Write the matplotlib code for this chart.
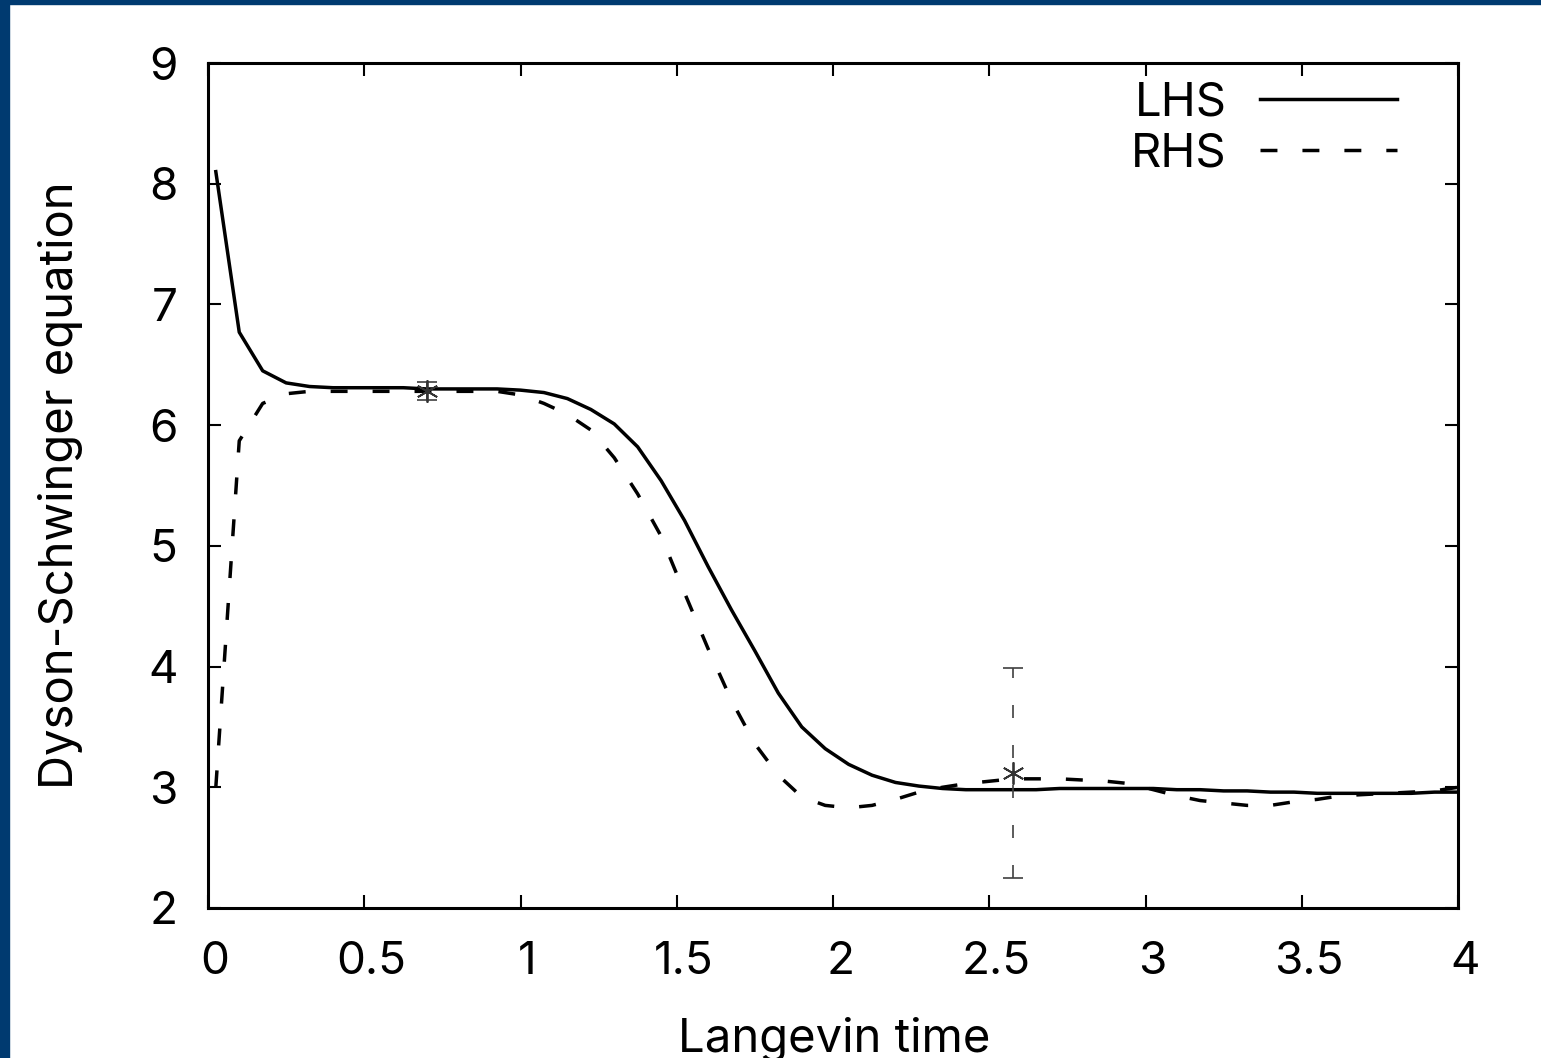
import numpy as np
import matplotlib
matplotlib.use("Agg")
import matplotlib.pyplot as plt
from matplotlib.patches import Rectangle
from matplotlib.transforms import ScaledTranslation

plt.rcParams['font.family'] = ['Inter', 'Liberation Sans', 'DejaVu Sans']

# Langevin time grid (step 0.075)
t = [0.025, 0.1, 0.175, 0.25, 0.325, 0.4, 0.475, 0.55, 0.625, 0.7,
     0.775, 0.85, 0.925, 1.0, 1.075, 1.15, 1.225, 1.3, 1.375, 1.45,
     1.525, 1.6, 1.675, 1.75, 1.825, 1.9, 1.975, 2.05, 2.125, 2.2,
     2.275, 2.35, 2.425, 2.5, 2.575, 2.65, 2.725, 2.8, 2.875, 2.95,
     3.025, 3.1, 3.175, 3.25, 3.325, 3.4, 3.475, 3.55, 3.625, 3.7,
     3.775, 3.85, 3.925, 4.0]

lhs = [8.10, 6.77, 6.45, 6.35, 6.32, 6.31, 6.31, 6.31, 6.31, 6.30,
       6.30, 6.30, 6.30, 6.29, 6.27, 6.22, 6.13, 6.01, 5.82, 5.54,
       5.21, 4.83, 4.47, 4.13, 3.78, 3.50, 3.32, 3.19, 3.10, 3.04,
       3.01, 2.99, 2.98, 2.98, 2.98, 2.98, 2.99, 2.99, 2.99, 2.99,
       2.99, 2.98, 2.98, 2.97, 2.97, 2.96, 2.96, 2.95, 2.95, 2.95,
       2.95, 2.95, 2.96, 2.96]

rhs = [3.00, 5.87, 6.18, 6.26, 6.28, 6.28, 6.28, 6.28, 6.28, 6.28,
       6.28, 6.28, 6.28, 6.25, 6.18, 6.09, 5.96, 5.73, 5.43, 5.08,
       4.61, 4.15, 3.72, 3.36, 3.10, 2.92, 2.85, 2.83, 2.85, 2.90,
       2.96, 3.00, 3.03, 3.05, 3.07, 3.07, 3.07, 3.06, 3.05, 3.03,
       2.98, 2.93, 2.89, 2.87, 2.85, 2.85, 2.88, 2.90, 2.93, 2.94,
       2.95, 2.96, 2.97, 3.00]

# sample points with error bars
err_t = [0.7, 2.575]
err_y = [6.285, 3.12]
err_e = [0.075, 0.87]

fig = plt.figure(figsize=(15.41, 10.58), dpi=100)
# dark blue slide frame
fig.patches.append(Rectangle((0, 0), 9/1541, 1, transform=fig.transFigure, color='#003a70', zorder=0))
fig.patches.append(Rectangle((0, 1 - 4/1058), 1, 4/1058, transform=fig.transFigure, color='#003a70', zorder=0))

ax = fig.add_axes([208/1541, 1 - 908/1058, 1250/1541, 845/1058])

lw = 2.5
ax.plot(t, lhs, color='black', lw=lw, label='LHS')
ax.plot(t, rhs, color='black', lw=lw, dashes=(12.2/lw, 18/lw), label='RHS')

ast = (6, 2, 0)
ax.errorbar(err_t[0], err_y[0], yerr=err_e[0], fmt='none', ecolor='0.25',
            elinewidth=1.2, capsize=7, capthick=1.2)
ax.plot(err_t[0], err_y[0], marker=ast, ms=16, mew=1.3, color='0.2', ls='none')
eb2 = ax.errorbar(err_t[1], err_y[1], yerr=err_e[1], fmt='none', ecolor='0.25',
                  elinewidth=1.2, capsize=7, capthick=1.2)
eb2[2][0].set_linestyle((0, (7.8, 16.2)))
ax.plot(err_t[1], err_y[1], marker=ast, ms=16, mew=1.3, color='0.2', ls='none')

ax.set_xlim(0, 4)
ax.set_ylim(2, 9)
ax.set_xticks([0, 0.5, 1, 1.5, 2, 2.5, 3, 3.5, 4])
ax.set_xticklabels(['0', '0.5', '1', '1.5', '2', '2.5', '3', '3.5', '4'])
ax.set_yticks([2, 3, 4, 5, 6, 7, 8, 9])
ax.tick_params(direction='in', length=9.5, width=1.5, top=True, right=True, labelsize=33)
ax.tick_params(axis='x', pad=24)
ax.tick_params(axis='y', pad=22)
for s in ax.spines.values():
    s.set_linewidth(2.2)

# gnuplot puts the x tick labels a little right of the ticks
shift = ScaledTranslation(0.07, 0, fig.dpi_scale_trans)
for lab in ax.get_xticklabels():
    lab.set_transform(lab.get_transform() + shift)

ax.set_xlabel('Langevin time', fontsize=34)
ax.xaxis.set_label_coords(0.501, -0.156)
ax.xaxis.label.set_va('center')
ax.set_ylabel('Dyson-Schwinger equation', fontsize=34)
ax.yaxis.set_label_coords(-0.118, 0.5)
ax.yaxis.label.set_va('center')

ax.legend(loc='upper right', bbox_to_anchor=(0.985, 1.028), frameon=False, fontsize=34,
          markerfirst=False, handlelength=2.9, handletextpad=0.7, labelspacing=0.15)

fig.savefig('out.png', dpi=100)
